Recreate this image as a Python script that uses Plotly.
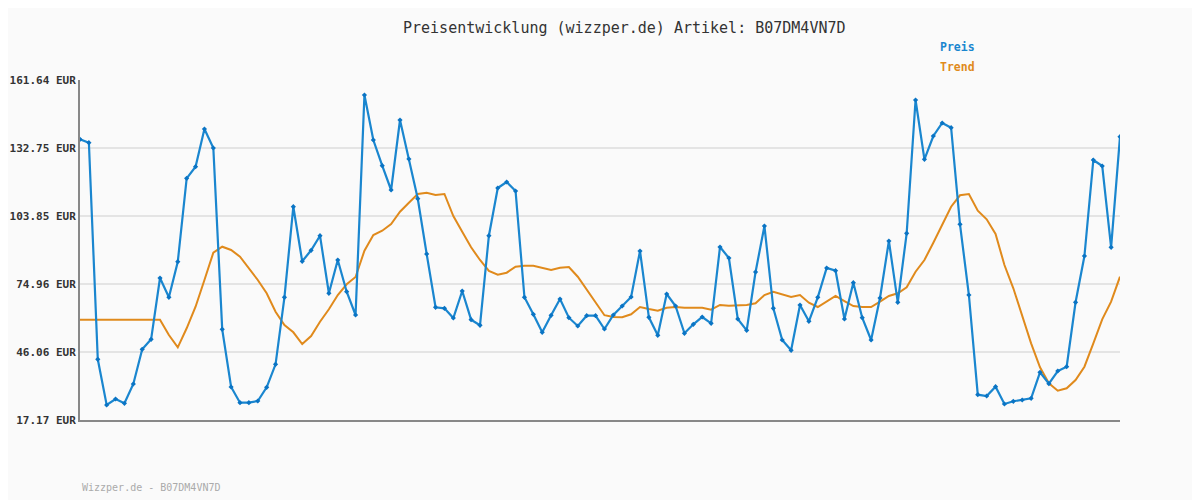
import plotly.graph_objects as go

preis = [136.44, 135.00, 42.96, 23.54, 26.09, 24.27, 32.47, 47.21, 51.46, 77.51,
         69.31, 84.43, 119.87, 124.80, 140.82, 132.75, 55.71, 31.19, 24.52, 24.52,
         25.24, 31.07, 40.84, 69.31, 107.80, 84.60, 89.28, 95.48, 71.01, 85.16,
         71.69, 61.79, 155.27, 136.15, 125.23, 114.90, 144.64, 128.07, 111.20, 87.71,
         65.06, 64.63, 60.51, 71.98, 59.79, 57.41, 95.48, 115.75, 118.30, 114.47,
         69.31, 62.08, 54.43, 61.66, 68.58, 60.64, 57.11, 61.49, 61.49, 55.84,
         61.79, 65.61, 69.43, 88.98, 60.81, 53.16, 70.71, 65.61, 54.01, 57.83,
         60.94, 58.26, 90.68, 86.01, 60.09, 55.28, 80.06, 99.60, 64.63, 51.16,
         46.79, 66.04, 59.11, 69.31, 81.76, 80.61, 60.09, 75.51, 60.64, 51.16,
         69.01, 93.23, 67.18, 96.50, 153.14, 127.94, 137.85, 143.37, 141.37, 100.33,
         70.28, 27.92, 27.37, 31.32, 23.97, 25.12, 25.67, 26.39, 37.44, 32.59,
         37.99, 39.82, 67.18, 86.86, 127.65, 125.10, 90.55, 137.55]

trend = [59.79, 59.79, 59.79, 59.79, 59.79, 59.79, 59.79, 59.79, 59.79, 59.79,
         53.29, 48.06, 56.14, 65.31, 76.66, 88.26, 90.81, 89.41, 86.56, 81.63,
         76.66, 71.01, 63.19, 57.54, 54.43, 49.46, 52.86, 58.94, 64.21, 70.28,
         74.83, 77.93, 89.11, 95.78, 97.61, 100.45, 105.68, 109.50, 113.20, 113.75,
         112.78, 113.20, 103.85, 97.18, 90.55, 85.16, 80.48, 78.91, 79.76, 82.31,
         82.73, 82.73, 81.88, 80.91, 81.88, 82.18, 78.06, 72.71, 67.31, 61.70,
         60.94, 60.81, 62.08, 65.19, 64.34, 63.61, 64.89, 65.19, 64.89, 64.89,
         64.89, 64.04, 66.04, 65.74, 65.74, 66.04, 66.76, 70.28, 71.69, 70.71,
         69.43, 70.28, 67.01, 65.19, 67.44, 69.86, 67.73, 65.61, 65.19, 65.19,
         67.44, 69.86, 71.01, 73.56, 80.18, 85.16, 92.51, 100.03, 107.80, 112.65,
         113.20, 106.10, 102.45, 96.20, 83.03, 73.13, 61.79, 49.76, 39.56, 32.76,
         29.62, 30.64, 34.17, 39.82, 49.76, 59.96, 67.44, 78.06]

y_ticks = [17.17, 46.06, 74.96, 103.85, 132.75, 161.64]
y_tick_labels = ["17.17 EUR", "46.06 EUR", "74.96 EUR", "103.85 EUR", "132.75 EUR", "161.64 EUR"]

x = list(range(len(preis)))

BLUE = "#1a86cf"
ORANGE = "#e08a1c"
MONO = "DejaVu Sans Mono"

# the page body has an 8px margin; the figure is sized/offset to compensate
fig = go.Figure()
fig.add_trace(go.Scatter(x=x, y=trend, mode="lines", name="Trend",
                         line=dict(color=ORANGE, width=2), hoverinfo="skip"))
fig.add_trace(go.Scatter(x=x, y=preis, mode="lines+markers", name="Preis",
                         line=dict(color=BLUE, width=2.2),
                         marker=dict(symbol="diamond", size=4, color="#0a74c4")))

PW, PH = 1040.0, 340.0  # plot area size


def px_x(px):
    return (px - 80) / PW


def px_y(py):
    return (420 - py) / PH


fig.update_layout(
    width=1192, height=492,
    margin=dict(l=72, r=80, t=72, b=80, autoexpand=False),
    paper_bgcolor="#fafafa", plot_bgcolor="#fafafa",
    showlegend=False,
    xaxis=dict(range=[0, len(preis) - 1], showgrid=False, zeroline=False,
               showticklabels=False, ticks="", showline=True, automargin=False,
               linecolor="#888888", linewidth=2),
    yaxis=dict(range=[y_ticks[0], y_ticks[-1]], tickvals=y_ticks, ticktext=y_tick_labels,
               showgrid=True, gridcolor="#e4e4e4", gridwidth=2, zeroline=False,
               showline=True, linecolor="#888888", linewidth=2, ticks="",
               ticklabelstandoff=0, automargin=False,
               tickfont=dict(family=MONO, size=11, color="#333333", weight="bold")),
    annotations=[
        dict(text="Preisentwicklung (wizzper.de) Artikel: B07DM4VN7D", xref="paper", yref="paper",
             x=px_x(624), y=px_y(28), xanchor="center", yanchor="middle", showarrow=False,
             font=dict(family=MONO, size=15, color="#333333")),
        dict(text="<b>Preis</b>", xref="paper", yref="paper",
             x=px_x(957), y=px_y(47), xanchor="center", yanchor="middle",
             showarrow=False, font=dict(family=MONO, size=11.5, color=BLUE)),
        dict(text="<b>Trend</b>", xref="paper", yref="paper",
             x=px_x(957), y=px_y(67), xanchor="center", yanchor="middle",
             showarrow=False, font=dict(family=MONO, size=11.5, color=ORANGE)),
        dict(text="Wizzper.de - B07DM4VN7D", xref="paper", yref="paper",
             x=0, y=px_y(487), xanchor="left", yanchor="middle",
             showarrow=False, font=dict(family=MONO, size=10, color="#aaaaaa")),
    ],
)

fig.write_html("out.html")
